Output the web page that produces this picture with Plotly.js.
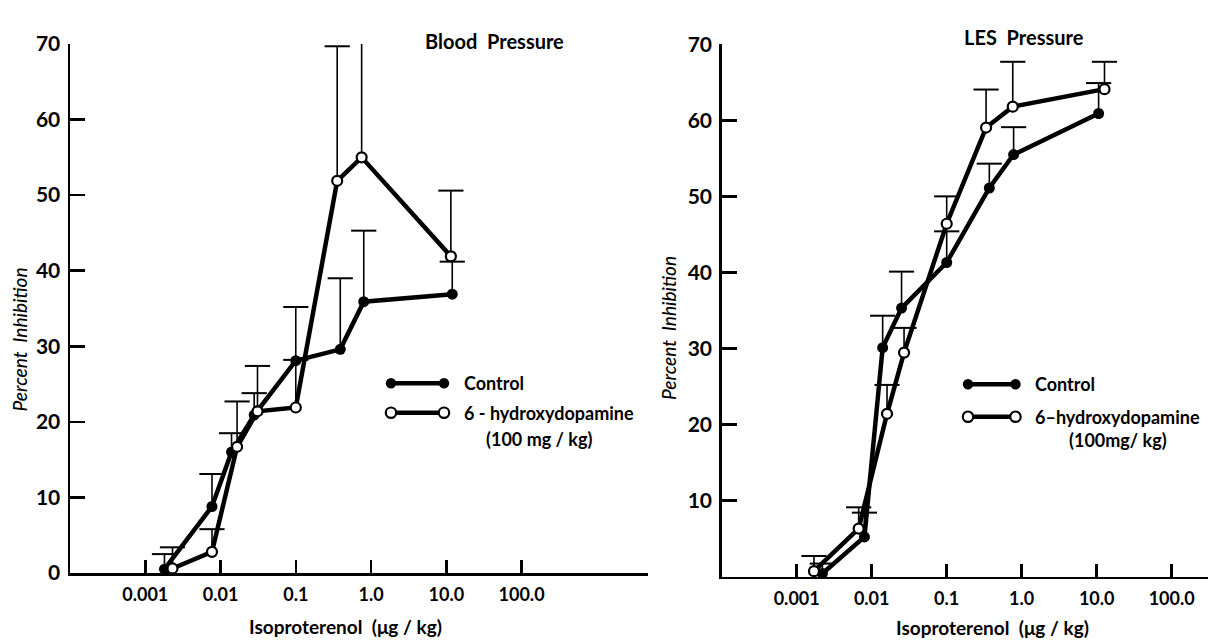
<!DOCTYPE html>
<html>
<head>
<meta charset="utf-8">
<script src="https://cdn.plot.ly/plotly-3.0.1.min.js"></script>
<style>html,body{margin:0;padding:0;background:#fff;}#chart{width:1208px;height:640px;}</style>
</head>
<body>
<div id="chart"></div>
<script>
// ---------- DATA ----------
// Blood Pressure panel
const bpDoseControl = [0.0018, 0.0077, 0.014, 0.028, 0.1, 0.39, 0.8, 12];
const bpControl     = [0.5, 8.8, 16.0, 20.9, 28.1, 29.6, 35.9, 36.9];
const bpControlErr  = [2.0, 4.3, 2.5, 2.9, 7.1, 9.4, 9.4, 4.3];
const bpDose6OH     = [0.0023, 0.0077, 0.0166, 0.031, 0.1, 0.355, 0.75, 11.5];
const bp6OH         = [0.6, 2.8, 16.7, 21.4, 21.9, 51.9, 55.0, 41.9];
const bp6OHErr      = [2.8, 3.0, 6.0, 6.0, 6.3, 17.8, 18.9, 8.7];

// LES Pressure panel
const lesDoseControl = [0.0022, 0.008, 0.014, 0.025, 0.1, 0.37, 0.78, 10.6];
const lesControl     = [0.4, 5.2, 30.1, 35.3, 41.3, 51.1, 55.5, 60.9];
const lesControlErr  = [1.3, 3.2, 4.2, 4.8, 4.1, 3.2, 3.6, 4.0];
const lesDose6OH     = [0.0017, 0.0067, 0.016, 0.027, 0.1, 0.335, 0.76, 12.7];
const les6OH         = [0.7, 6.3, 21.4, 29.45, 46.4, 59.05, 61.8, 64.1];
const les6OHErr      = [2.0, 2.8, 3.8, 3.25, 3.6, 5.0, 5.9, 3.6];

// Tick labels
const xTickVals   = [0.001, 0.01, 0.1, 1, 10, 100];
const xTickText   = ['0.001', '0.01', '0.1', '1.0', '10.0', '100.0'];
const yTickValsBP = [0, 10, 20, 30, 40, 50, 60, 70];
const yTickValsLES = [10, 20, 30, 40, 50, 60, 70];

// ---------- HELPERS ----------
const W = 1208, H = 640;
const px = v => v / W;
const py = v => 1 - v / H;
const FONT = 'Lato, "DejaVu Sans", sans-serif';

function errTraces(xs, ys, es, xa, ya) {
  const ex = [], ey = [];
  xs.forEach((x, i) => { ex.push(x, x, null); ey.push(ys[i], ys[i] + es[i], null); });
  const capY = ys.map((y, i) => y + es[i]);
  return [
    {x: ex, y: ey, xaxis: xa, yaxis: ya, mode: 'lines', line: {color: '#000', width: 1.6},
     hoverinfo: 'skip', showlegend: false, cliponaxis: false},
    {x: xs, y: capY, xaxis: xa, yaxis: ya, mode: 'markers',
     marker: {symbol: 'line-ew-open', size: 18, color: '#000', line: {color: '#000', width: 2}},
     hoverinfo: 'skip', showlegend: false, cliponaxis: false}
  ];
}
function series(xs, ys, xa, ya, open, name) {
  return {x: xs, y: ys, xaxis: xa, yaxis: ya, name: name, mode: 'lines+markers',
    line: {color: '#000', width: 4.5},
    marker: open ? {size: 10, color: '#fff', line: {color: '#000', width: 2.2}}
                 : {size: 11, color: '#000', line: {color: '#000', width: 0}},
    showlegend: false, cliponaxis: false};
}

const data = [
  ...errTraces(bpDoseControl, bpControl, bpControlErr, 'x', 'y'),
  ...errTraces(bpDose6OH, bp6OH, bp6OHErr, 'x', 'y'),
  series(bpDoseControl, bpControl, 'x', 'y', false, 'Control'),
  series(bpDose6OH, bp6OH, 'x', 'y', true, '6-hydroxydopamine'),
  ...errTraces(lesDoseControl, lesControl, lesControlErr, 'x2', 'y2'),
  ...errTraces(lesDose6OH, les6OH, les6OHErr, 'x2', 'y2'),
  series(lesDoseControl, lesControl, 'x2', 'y2', false, 'Control'),
  series(lesDose6OH, les6OH, 'x2', 'y2', true, '6-hydroxydopamine')
];

const xAxisBase = {
  type: 'log', showgrid: false, zeroline: false, showline: true, linecolor: '#000', linewidth: 2.5,
  ticks: 'inside', ticklen: 13, tickwidth: 2.5, tickcolor: '#000',
  tickvals: xTickVals, ticktext: xTickText, ticklabelstandoff: 4,
  tickfont: {family: FONT, size: 18, color: '#000', weight: 700}, fixedrange: true
};
const yAxisBase = {
  range: [0, 70], showgrid: false, zeroline: false, showline: true, linecolor: '#000', linewidth: 2.5,
  ticks: 'inside', ticklen: 15, tickwidth: 2.5, tickcolor: '#000', ticklabelstandoff: 3,
  tickfont: {family: FONT, size: 21, color: '#000', weight: 700}, fixedrange: true
};

const layout = {
  width: W, height: H, margin: {l: 0, r: 0, t: 0, b: 0},
  paper_bgcolor: '#fff', plot_bgcolor: 'rgba(0,0,0,0)', showlegend: false,
  xaxis: Object.assign({}, xAxisBase, {range: [-4, 3.68], domain: [px(70), px(648)], anchor: 'y'}),
  yaxis: Object.assign({}, yAxisBase, {tickvals: yTickValsBP, domain: [py(573), py(44)], anchor: 'x'}),
  xaxis2: Object.assign({}, xAxisBase, {range: [-4, 2.484], domain: [px(721.7), 1], anchor: 'y2'}),
  yaxis2: Object.assign({}, yAxisBase, {tickvals: yTickValsLES, domain: [py(576.5), py(44.3)], anchor: 'x2'}),
  annotations: [],
  shapes: []
};

function txt(text, x, y, opts) {
  layout.annotations.push(Object.assign({
    text: text, xref: 'paper', yref: 'paper', x: px(x), y: py(y), showarrow: false,
    xanchor: 'center', yanchor: 'middle',
    font: {family: FONT, size: 18, color: '#000', weight: 700}
  }, opts || {}));
}
const titleFont = {family: FONT, size: 20, color: '#000', weight: 700};
const xTitleFont = {family: FONT, size: 19, color: '#000', weight: 700};
const yTitleFont = {family: FONT, size: 19, color: '#000', style: 'italic', weight: 500};
// panel titles
txt('Blood&nbsp;&nbsp;Pressure', 494, 41, {font: titleFont});
txt('LES&nbsp;&nbsp;Pressure', 1024, 37, {font: titleFont});
// axis titles
txt('Isoproterenol&nbsp;&nbsp;(μg / kg)', 345.5, 626, {font: xTitleFont});
txt('Isoproterenol&nbsp;&nbsp;(μg / kg)', 992.5, 627, {font: xTitleFont});
txt('Percent&nbsp;&nbsp;Inhibition', 18.5, 340, {textangle: -90, font: yTitleFont});
txt('Percent&nbsp;&nbsp;Inhibition', 668, 328, {textangle: -90, font: yTitleFont});
// legend texts
txt('Control', 461.7, 383.3, {xanchor: 'left'});
txt('6 - hydroxydopamine', 461.7, 412.7, {xanchor: 'left'});
txt('(100 mg / kg)', 484, 439, {xanchor: 'left'});
txt('Control', 1033, 384.3, {xanchor: 'left'});
txt('6–hydroxydopamine', 1033, 416.7, {xanchor: 'left'});
txt('(100mg/ kg)', 1067, 440, {xanchor: 'left'});

// legend keys (line with circle at each end)
function key(x0, x1, y, open) {
  layout.shapes.push({type: 'line', xref: 'paper', yref: 'paper', x0: px(x0), x1: px(x1), y0: py(y), y1: py(y),
    line: {color: '#000', width: 4.5}});
  [x0, x1].forEach(cx => {
    const r = 5.2;
    layout.shapes.push({type: 'circle', xref: 'paper', yref: 'paper',
      x0: px(cx - r), x1: px(cx + r), y0: py(y + r), y1: py(y - r),
      fillcolor: open ? '#fff' : '#000', line: {color: '#000', width: open ? 2.2 : 0}});
  });
}
key(391, 444, 383.3, false);
key(391, 444, 412.7, true);
key(968, 1015.5, 384.3, false);
key(968, 1015.5, 416.7, true);

Plotly.newPlot('chart', data, layout, {displayModeBar: false, staticPlot: true});
</script>
</body>
</html>
